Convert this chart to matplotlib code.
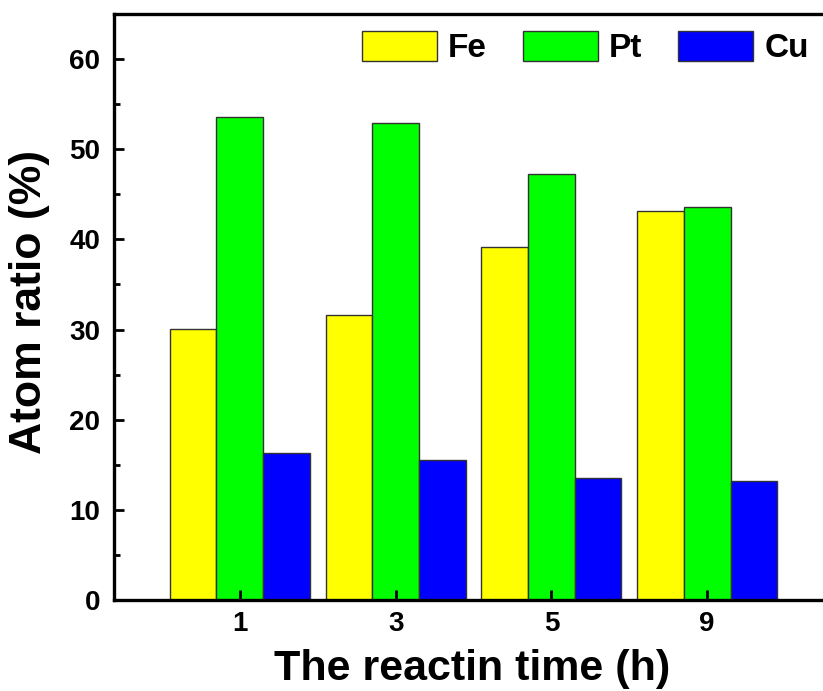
import numpy as np
import matplotlib
matplotlib.use("Agg")
import matplotlib.pyplot as plt
from matplotlib.ticker import MultipleLocator

plt.rcParams["font.family"] = "Liberation Sans"
plt.rcParams["font.weight"] = "bold"

times = ["1", "3", "5", "9"]
fe = [30.1, 31.6, 39.2, 43.2]
pt = [53.6, 52.9, 47.3, 43.6]
cu = [16.3, 15.5, 13.5, 13.2]

x = np.arange(len(times))
w = 0.3

fig = plt.figure(figsize=(8.23, 6.91), dpi=100)
ax = fig.add_axes([114/823, 91/691, 719/823, 586/691])

ax.bar(x - w, fe, w, color="#ffff00", edgecolor="#333333", linewidth=1, label="Fe")
ax.bar(x, pt, w, color="#00ff00", edgecolor="#333333", linewidth=1, label="Pt")
ax.bar(x + w, cu, w, color="#0000ff", edgecolor="#333333", linewidth=1, label="Cu")

ax.set_xlim(-0.808, 3.808)
ax.set_ylim(0, 65)
ax.set_xticks(x)
ax.set_xticklabels(times)
ax.yaxis.set_major_locator(MultipleLocator(10))
ax.yaxis.set_minor_locator(MultipleLocator(5))

for s in ax.spines.values():
    s.set_linewidth(2.4)
ax.tick_params(axis="both", which="major", direction="in", length=7, width=2,
               labelsize=20)
ax.tick_params(axis="y", which="major", pad=10)
ax.tick_params(axis="x", which="major", pad=8)
ax.tick_params(axis="y", which="minor", direction="in", length=4, width=2)

ax.set_xlabel("The reactin time (h)", fontsize=31, fontweight="bold")
ax.set_ylabel("Atom ratio (%)", fontsize=32, fontweight="bold")
ax.xaxis.set_label_coords(0.498, -0.083)
ax.yaxis.set_label_coords(-0.089, 0.508)

ax.legend(loc="upper left", bbox_to_anchor=(362/823, 1 - 31/691),
          bbox_transform=fig.transFigure, ncol=3, frameon=False,
          fontsize=24, borderpad=0, borderaxespad=0,
          handlelength=2.25, handleheight=1.0, handletextpad=0.33,
          columnspacing=1.08)

fig.savefig("out.png", dpi=100)
